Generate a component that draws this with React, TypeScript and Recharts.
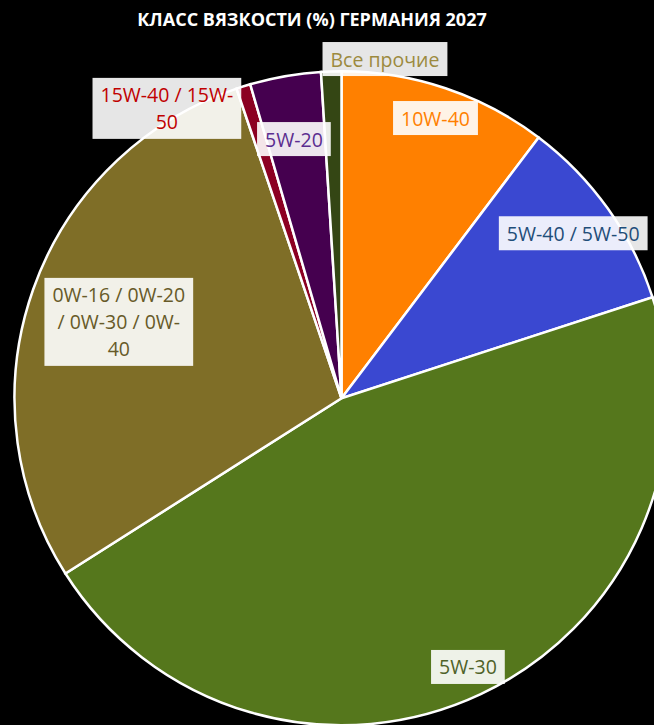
import React from 'react';
import { PieChart, Pie, Cell } from 'recharts';

const categories = [
  '10W-40',
  '5W-40 / 5W-50',
  '5W-30',
  '0W-16 / 0W-20 / 0W-30 / 0W-40',
  '15W-40 / 15W-50',
  '5W-20',
  'Все прочие',
];
const shares = [10.3, 9.7, 46.0, 28.8, 0.7, 3.5, 1.0];
const labelLines = [
  ['10W-40'],
  ['5W-40 / 5W-50'],
  ['5W-30'],
  ['0W-16 / 0W-20', '/ 0W-30 / 0W-', '40'],
  ['15W-40 / 15W-', '50'],
  ['5W-20'],
  ['Все прочие'],
];
const title = 'КЛАСС ВЯЗКОСТИ (%) ГЕРМАНИЯ 2027';

const sliceColors = ['#FF8000', '#3A48D1', '#55771C', '#7F6E27', '#8C0022', '#45004F', '#344614'];
const textColors = ['#FF8000', '#1F4E79', '#4F6228', '#675A28', '#C00000', '#5B2D90', '#9C8A3E'];
// label placement: radius fraction and clockwise angle offset (deg)
const labelPlace = [
  { r: 0.904, d: 0 },
  { r: 0.87, d: 0 },
  { r: 0.908, d: 0 },
  { r: 0.72, d: -0.5 },
  { r: 1.035, d: -13.6 },
  { r: 0.806, d: -0.5 },
  { r: 1.046, d: 9.1 },
];

const data = categories.map((name, i) => ({ name, value: shares[i] }));

const FONT = '"Open Sans", sans-serif';
const FS = 19.5;
const LH = 27;

let ctx: CanvasRenderingContext2D | null = null;
function measure(t: string): number {
  if (!ctx && typeof document !== 'undefined') {
    ctx = document.createElement('canvas').getContext('2d');
  }
  if (!ctx) return t.length * FS * 0.55;
  ctx.font = `${FS}px "Open Sans"`;
  return ctx.measureText(t).width;
}

const renderLabel = (props: any) => {
  const { cx, cy, midAngle, outerRadius, index } = props;
  const place = labelPlace[index];
  const theta = ((90 - midAngle + place.d) * Math.PI) / 180;
  const r = outerRadius * place.r;
  const x = cx + r * Math.sin(theta);
  const y = cy - r * Math.cos(theta);
  const lines = labelLines[index];
  const w = Math.max(...lines.map(measure)) + 16;
  const h = lines.length * LH + 7;
  return (
    <g key={`lbl-${index}`}>
      <rect x={x - w / 2} y={y - h / 2} width={w} height={h} fill="#FFFFFF" fillOpacity={0.9} />
      {lines.map((ln, i) => (
        <text
          key={i}
          x={x}
          y={y + (i - (lines.length - 1) / 2) * LH}
          textAnchor="middle"
          dominantBaseline="central"
          fontFamily={FONT}
          fontSize={FS}
          fill={textColors[index]}
        >
          {ln}
        </text>
      ))}
    </g>
  );
};

export default function App() {
  return (
    <div
      style={{
        position: 'absolute',
        left: 0,
        top: 0,
        width: 654,
        height: 725,
        background: '#000000',
        overflow: 'hidden',
      }}
    >
      <PieChart width={654} height={725} margin={{ top: 0, right: 0, bottom: 0, left: 0 }}>
        <text
          x={312}
          y={26}
          textAnchor="middle"
          fontFamily={FONT}
          fontWeight="bold"
          fontSize={18}
          fill="#FFFFFF"
        >
          {title}
        </text>
        <Pie
          data={data}
          dataKey="value"
          nameKey="name"
          cx={341.5}
          cy={398.3}
          outerRadius={327}
          startAngle={90}
          endAngle={-270}
          stroke="#FFFFFF"
          strokeWidth={2.5}
          label={renderLabel}
          labelLine={false}
          isAnimationActive={false}
        >
          {data.map((d, i) => (
            <Cell key={d.name} fill={sliceColors[i]} />
          ))}
        </Pie>
      </PieChart>
    </div>
  );
}
